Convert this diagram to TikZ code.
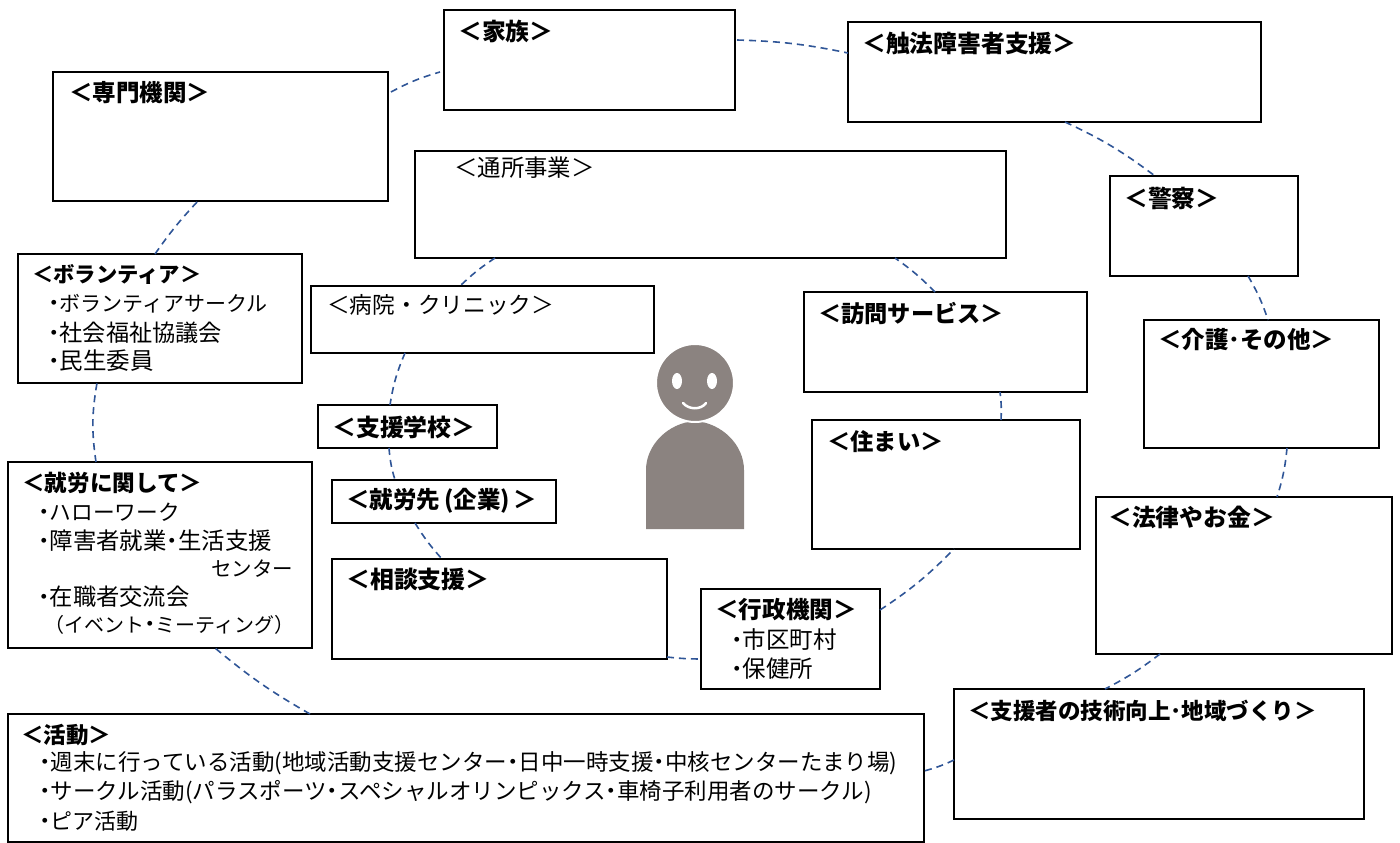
\documentclass[tikz,border=0pt]{standalone}
\usepackage{fontspec}
\setmainfont{Noto Sans CJK JP}
\usetikzlibrary{calc}
\definecolor{linkblue}{HTML}{2F5597}
\definecolor{figgrey}{HTML}{8B8380}
\newcommand{\bu}{{\fontsize{23}{23}\selectfont\bfseries ･}}
\tikzset{
  x=1pt,y=-1pt,
  boxn/.style={draw=black,line width=1.4pt,fill=white,inner sep=0pt,outer sep=0pt},
  ttl/.style={anchor=west,inner sep=0pt,font=\fontsize{#1}{#1}\selectfont\bfseries},
  ttlr/.style={anchor=west,inner sep=0pt,font=\fontsize{#1}{#1}\selectfont},
  itm/.style={anchor=west,inner sep=0pt,font=\fontsize{#1}{#1}\selectfont},
  link/.style={draw=linkblue,line width=1.6pt,dash pattern=on 7pt off 5pt},
}
\newcommand{\mybox}[5]{\node[boxn,minimum width=#4pt-#2pt,minimum height=#5pt-#3pt] (#1) at ({(#2+#4)/2},{(#3+#5)/2}) {};}
\begin{document}
\begin{tikzpicture}
\useasboundingbox (0,0) rectangle (1400,843);
\fill[white] (0,0) rectangle (1400,843);
\mybox{kazoku}{444}{10}{735}{110}
\mybox{shoho}{848}{22}{1261}{122}
\mybox{senmon}{53}{72}{388}{201}
\mybox{tsusho}{415}{151}{1006}{258}
\mybox{keisatsu}{1110}{176}{1298}{276}
\mybox{vol}{18}{254}{302}{383}
\mybox{byoin}{311}{286}{654}{353}
\mybox{homon}{804}{292}{1087}{392}
\mybox{kaigo}{1144}{320}{1379}{448}
\mybox{gakko}{318}{405}{497}{448}
\mybox{sumai}{812}{420}{1080}{549}
\mybox{shuro}{8}{462}{312}{648}
\mybox{kigyo}{332}{480}{556}{523}
\mybox{horitsu}{1096}{497}{1392}{654}
\mybox{sodan}{332}{559}{667}{659}
\mybox{gyosei}{701}{589}{880}{689}
\mybox{shien}{954}{689}{1364}{819}
\mybox{katsudo}{8}{714}{924}{842}
% outer ring
\draw[link] ($(senmon.north east)+(3,20)$) to[bend left=6] ($(kazoku.south west)+(-4,-38)$);
\draw[link] ($(kazoku.north east)+(2,30)$) to[bend left=5] ($(shoho.north west)+(0,31)$);
\draw[link] ($(shoho.south west)+(217,0)$) to[bend left=6] ($(keisatsu.north west)+(45,0)$);
\draw[link] ($(keisatsu.south west)+(138,0)$) to[bend left=6] ($(kaigo.north west)+(124,0)$);
\draw[link] ($(kaigo.south west)+(143,0)$) to[bend left=6] ($(horitsu.north west)+(181,0)$);
\draw[link] ($(horitsu.south west)+(64,0)$) to[bend left=5] ($(shien.north west)+(151,0)$);
\draw[link] ($(shien.south west)+(0,-59)$) to[bend left=5] ($(katsudo.north east)+(0,57)$);
\draw[link] ($(katsudo.north west)+(302,0)$) to[bend left=5] ($(shuro.south west)+(207,0)$);
\draw[link] ($(shuro.north west)+(88,0)$) to[bend left=9] ($(vol.south west)+(79,0)$);
\draw[link] ($(vol.north west)+(137,0)$) to[bend left=4] ($(senmon.south west)+(145,0)$);
% inner ring
\draw[link] ($(tsusho.south west)+(80,0)$) to[bend right=5] ($(byoin.north west)+(149,0)$);
\draw[link] ($(byoin.south west)+(94,0)$) to[bend right=7] ($(gakko.north west)+(72,0)$);
\draw[link] ($(gakko.south west)+(71,0)$) to[bend right=6] ($(kigyo.north west)+(63,0)$);
\draw[link] ($(kigyo.south west)+(83,0)$) to[bend right=5] ($(sodan.north west)+(110,0)$);
\draw[link] ($(sodan.south east)+(0,-2)$) to[bend right=3] ($(gyosei.north west)+(0,70)$);
\draw[link] ($(gyosei.north east)+(0,21)$) to[bend right=6] ($(sumai.south west)+(142,0)$);
\draw[link] ($(sumai.north west)+(189,0)$) to[bend right=5] ($(homon.south west)+(196,0)$);
\draw[link] ($(homon.north west)+(131,0)$) to[bend right=5] ($(tsusho.south west)+(480,0)$);
% titles and items
\node[ttl=23.8] (t1) at (458,31) {＜家族＞};
\node[ttl=23.8] (t2) at (862,43) {＜触法障害者支援＞};
\node[ttl=23.5] (t3) at (69,93) {＜専門機関＞};
\node[ttlr=23.4] (t4) at (454,168) {＜通所事業＞};
\node[ttl=23.8] (t5) at (1124,198) {＜警察＞};
\node[ttl=21.3] (t6) at (32,274) {＜ボランティア＞};
\node[itm=21] (v1) at (48,304) {\bu ボランティアサークル};
\node[itm=23.2] (v2) at (48,333) {\bu 社会福祉協議会};
\node[itm=23.5] (v3) at (48,361) {\bu 民生委員};
\node[ttlr=22.7] (t7) at (327,305) {＜病院・クリニック＞};
\node[ttl=23.2] (t8) at (818,313) {＜訪問サービス＞};
\node[ttl=23.5] (t9) at (1158,340) {＜介護･その他＞};
\node[ttl=23.9] (t10) at (332,427) {＜支援学校＞};
\node[ttl=23.3] (t11) at (827,442) {＜住まい＞};
\node[ttl=22.6] (t12) at (22,483) {＜就労に関して＞};
\node[itm=21.7] (s1) at (38,512) {\bu ハローワーク};
\node[itm=23.4] (s2) at (38,541) {\bu 障害者就業\bu 生活支援};
\node[itm=20.5] (s3) at (211,569) {センター};
\node[itm=23.3] (s4) at (38,597) {\bu 在職者交流会};
\node[itm=20] (s5) at (44,625) {（イベント\bu ミーティング）};
\node[ttl=23.5] (t13) at (346,501) {＜就労先\,(企業)\,＞};
\node[ttl=23.8] (t14) at (1108,517) {＜法律やお金＞};
\node[ttl=23.9] (t15) at (346,579) {＜相談支援＞};
\node[ttl=23.6] (t16) at (715,610) {＜行政機関＞};
\node[itm=23.5] (g1) at (731,640) {\bu 市区町村};
\node[itm=23.5] (g2) at (731,669) {\bu 保健所};
\node[ttl=22.5] (t17) at (968,711) {＜支援者の技術向上･地域づくり＞};
\node[ttl=22.5] (t18) at (21,735) {＜活動＞};
\node[itm=22.5] (k1) at (39,763) {\bu 週末に行っている活動(地域活動支援センター\bu 日中一時支援\bu 中核センターたまり場)};
\node[itm=22.5] (k2) at (39,792) {\bu サークル活動(パラスポーツ\bu スペシャルオリンピックス\bu 車椅子利用者のサークル)};
\node[itm=22] (k3) at (39,821) {\bu ピア活動};
% figure
\fill[figgrey] (646,529) -- (646,470) .. controls (646,445) and (668,423) .. (695,421) .. controls (722,423) and (744,445) .. (744,470) -- (744,529) -- cycle;
\draw[white,line width=2pt,fill=figgrey] (695,383) circle (39);
\fill[white] (677,381) ellipse (5 and 8);
\fill[white] (712,381) ellipse (5 and 8);
\draw[white,line width=2.5pt,line cap=round] (683,403) .. controls (689,410) and (701,410) .. (706,403);
\end{tikzpicture}
\end{document}
